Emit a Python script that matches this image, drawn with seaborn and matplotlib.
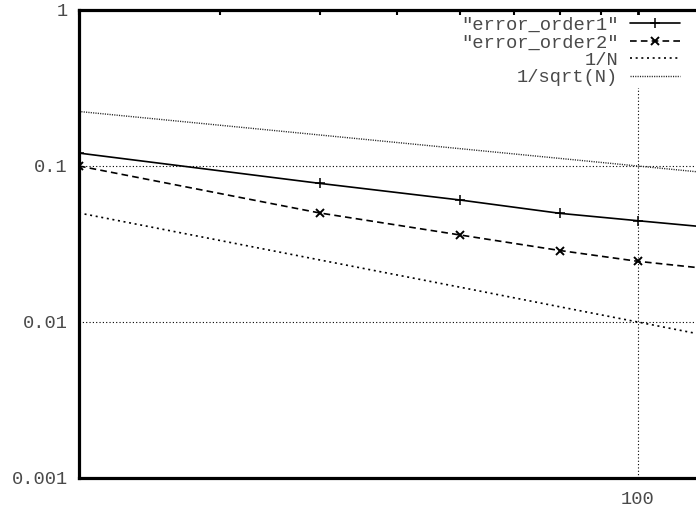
import numpy as np
import pandas as pd
import matplotlib
matplotlib.use('Agg')
import matplotlib.pyplot as plt
import matplotlib.ticker as mticker
import seaborn as sns

# values
n_values = [20, 40, 60, 80, 100, 120]
error_order1 = [0.121, 0.0774, 0.0605, 0.0497, 0.0446, 0.0409]
error_order2 = [0.100, 0.0500, 0.0361, 0.0287, 0.0245, 0.0222]
inv_n = [0.05, 0.025, 0.0167, 0.0125, 0.01, 0.00833]
inv_sqrt_n = [0.2236, 0.1581, 0.1291, 0.1118, 0.1, 0.0913]

y_ticks = [1, 0.1, 0.01, 0.001]
y_tick_labels = ['1', '0.1', '0.01', '0.001']
x_ticks = [100]
x_tick_labels = ['100']

df = pd.DataFrame({'N': n_values, 'e1': error_order1, 'e2': error_order2,
                   'invN': inv_n, 'invsqrtN': inv_sqrt_n})

sns.set_style('white')
plt.rcParams['font.family'] = ['Liberation Mono', 'DejaVu Sans Mono']
text_color = '#4a4a4a'

fig = plt.figure(figsize=(6.96, 5.14), dpi=100)
# axes run slightly past the right edge of the image, as in the reference
ax = fig.add_axes([79 / 696, 36 / 514, 622 / 696, 468 / 514])

sns.lineplot(data=df, x='N', y='e1', ax=ax, color='black', lw=1.2,
             marker='+', markersize=7.5, mew=1.1, mec='black',
             label='"error_order1"')
sns.lineplot(data=df, x='N', y='e2', ax=ax, color='black', lw=1.2,
             linestyle=(0, (4, 2.5)), marker='x', markersize=5.5, mew=1.4,
             mec='black', label='"error_order2"')
sns.lineplot(data=df, x='N', y='invN', ax=ax, color='black', lw=1.2,
             linestyle=(0, (1.2, 2.2)), label='1/N')
sns.lineplot(data=df, x='N', y='invsqrtN', ax=ax, color='#222222', lw=1.0,
             linestyle=(0, (0.8, 0.9)), label='1/sqrt(N)')

ax.set_xscale('log')
ax.set_yscale('log')
ax.set_xlim(20, 120)
ax.set_ylim(0.001, 1)

ax.xaxis.set_major_locator(mticker.FixedLocator(x_ticks))
ax.xaxis.set_major_formatter(mticker.FixedFormatter(x_tick_labels))
ax.xaxis.set_minor_locator(mticker.LogLocator(base=10, subs=np.arange(2, 10)))
ax.xaxis.set_minor_formatter(mticker.NullFormatter())
ax.yaxis.set_major_locator(mticker.FixedLocator(y_ticks))
ax.yaxis.set_major_formatter(mticker.FixedFormatter(y_tick_labels))
ax.yaxis.set_minor_locator(mticker.LogLocator(base=10, subs=np.arange(2, 10), numticks=20))
ax.yaxis.set_minor_formatter(mticker.NullFormatter())

ax.set_xlabel('')
ax.set_ylabel('')

ax.tick_params(which='both', direction='in', top=True, right=False,
               color='black', labelcolor=text_color, labelsize=13.5)
ax.tick_params(which='major', length=6, width=2)
ax.tick_params(which='minor', length=3.5, width=1.5)
ax.tick_params(axis='y', pad=8)
ax.tick_params(axis='x', pad=9)

for side in ['left', 'bottom', 'top', 'right']:
    ax.spines[side].set_visible(True)
    ax.spines[side].set_color('black')
    ax.spines[side].set_linewidth(2.3)

ax.grid(True, which='major', color='black', lw=0.8, linestyle=(0, (1, 2)))

leg = ax.legend(loc='upper right', bbox_to_anchor=(682 / 696, 1 - 15 / 514),
                bbox_transform=fig.transFigure, markerfirst=False,
                frameon=True, fancybox=False, framealpha=1,
                facecolor='white', edgecolor='none', fontsize=13.5,
                handlelength=2.7, handletextpad=0.6, labelspacing=0.02,
                borderpad=0.1, borderaxespad=0)
for t in leg.get_texts():
    t.set_color(text_color)

fig.savefig('out.png', dpi=100)
